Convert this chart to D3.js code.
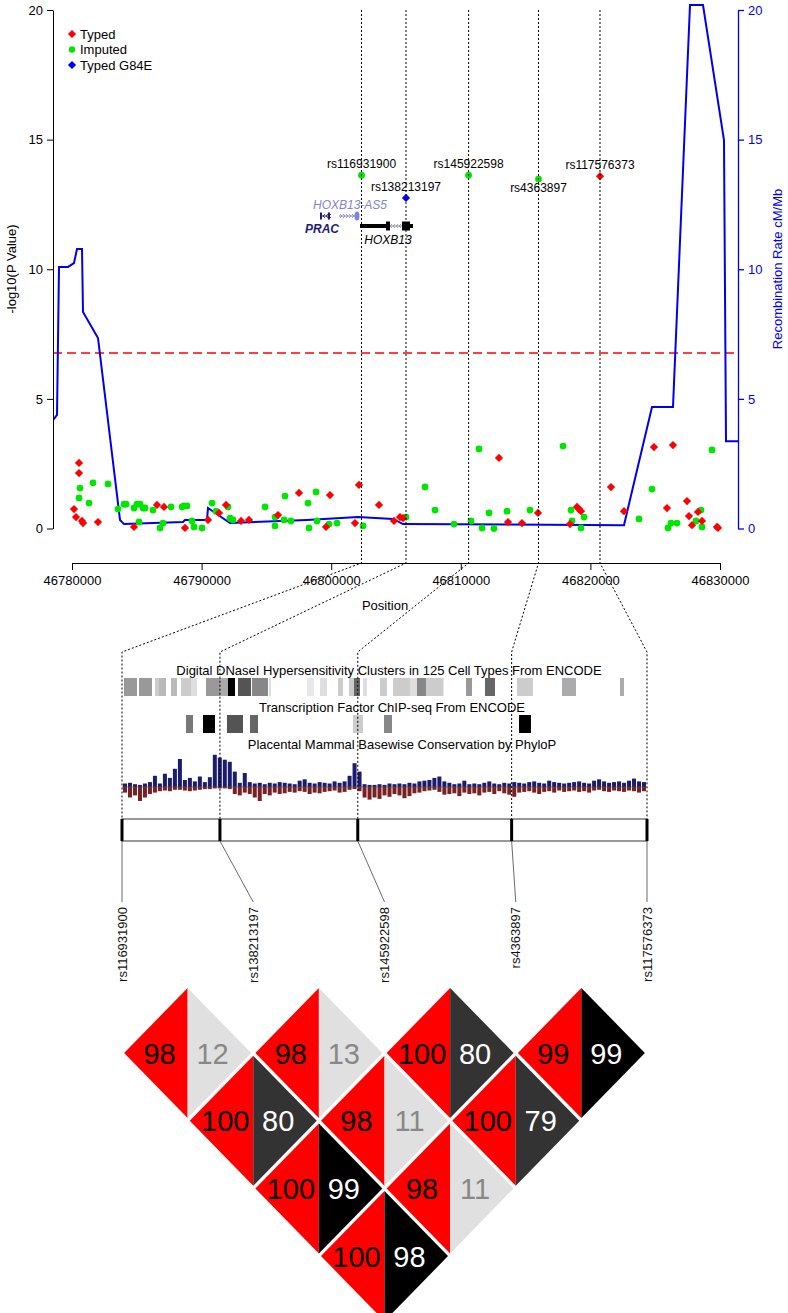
<!DOCTYPE html>
<html>
<head>
<meta charset="utf-8">
<script src="https://cdn.jsdelivr.net/npm/d3@7"></script>
<style>
body{margin:0;background:#fff}
svg text{font-family:"Liberation Sans",Arial,Helvetica,sans-serif}
</style>
</head>
<body>
<svg id="chart" width="788" height="1313"></svg>
<script>
// ---- association plot data
let xTicks=[46780000,46790000,46800000,46810000,46820000,46830000];
let yTicks=[0,5,10,15,20];
let sigLine=6.77;

let recombPos=[46778534,46778843,46778997,46779691,46780154,46780386,46780772,46780849,46782006,46783704,46784012,46788565,46788719,46790417,46790494,46792191,46798133,46802068,46804768,46805540,46822592,46824753,46826373,46827685,46828688,46830308,46830463,46831543];
let recombRate=[4.18,4.38,10.09,10.09,10.24,10.78,10.78,8.35,7.35,0.33,0.17,0.25,0.33,0.33,0.79,0.21,0.33,0.44,0.37,0.17,0.13,4.69,4.69,20.19,20.19,14.98,3.37,3.37];

let typed=[[46780540,2.53],[46780540,2.14],[46780154,0.75],[46780309,0.44],[46780772,0.29],[46780849,0.21],[46782006,0.25],[46784784,0.06],[46786559,0.91],[46787099,0.83],[46788719,0.02],[46790494,0.33],[46791343,0.60],[46791883,0.91],[46793040,0.29],[46793657,0.33],[46795895,0.52],[46797515,1.37],[46799907,1.29],[46799599,0.06],[46801836,0.21],[46802145,1.68],[46803688,0.91],[46804846,0.29],[46805308,0.44],[46805540,0.40],[46812947,2.72],[46813642,0.25],[46814722,0.21],[46815957,0.60],[46818426,0.17],[46818966,0.83],[46819120,0.75],[46819274,0.67],[46821589,1.60],[46822592,0.67],[46824907,3.14],[46826373,3.22],[46825910,0.79],[46827453,1.06],[46827608,0.48],[46828302,0.64],[46828611,0.29],[46827839,0.13],[46829768,0.06],[46829845,0.02],[46820740,13.59]];

let imputed=[[46780617,1.56],[46780540,1.18],[46781312,0.98],[46781620,1.76],[46782778,1.72],[46783549,0.75],[46784012,0.94],[46784167,0.94],[46784784,0.79],[46785170,0.25],[46785015,0.94],[46785247,0.94],[46785478,0.79],[46785633,0.79],[46786250,0.71],[46787639,0.83],[46786790,0.02],[46787022,0.21],[46788488,0.83],[46788642,0.87],[46788873,0.87],[46789259,0.29],[46789414,0.06],[46790031,0.02],[46790802,0.98],[46791111,0.67],[46792037,0.83],[46792191,0.40],[46792423,0.33],[46794892,0.83],[46795663,0.44],[46795663,0.10],[46796358,0.33],[46796435,1.25],[46796898,0.29],[46798210,0.98],[46798287,0.02],[46798827,1.41],[46798904,0.29],[46799830,0.17],[46800447,0.21],[46802454,0.10],[46805771,0.44],[46807237,1.60],[46808009,0.71],[46809475,0.17],[46810787,0.29],[46811404,3.07],[46811636,0.02],[46812176,0.60],[46812562,0.0],[46813565,0.67],[46815339,0.71],[46817886,3.18],[46818503,0.71],[46818580,0.29],[46819506,0.44],[46819274,0.02],[46823749,0.37],[46824753,1.52],[46825987,0.02],[46826218,0.21],[46826682,0.21],[46828534,0.71],[46828148,0.29],[46828611,0.06],[46829382,3.03],[46802338,13.63],[46810602,13.63],[46815995,13.48]];

let g84e=[[46805771,12.75]];

let snpNames=['rs116931900','rs138213197','rs145922598','rs4363897','rs117576373'];
let snpPos=[46802338,46805771,46810602,46815995,46820740];
let snpP=[13.63,12.75,13.63,13.48,13.59];
let snpLabelBelow=[false,false,false,true,false];

// genes: name, start, end, strand
let geneNames=['PRAC','HOXB13-AS5','HOXB13'];
let geneStart=[46799136,46800602,46802222];
let geneEnd=[46799908,46802145,46806311];
let geneStrand=[-1,1,-1];
// exons: gene index, start, end, kind
let exonGene=[0,0,1,2,2,2,2];
let exonStart=[46799136,46799750,46801836,46802222,46804228,46805463,46806080];
let exonEnd=[46799290,46799908,46802145,46804228,46804537,46806080,46806311];
let exonKind=['cds','cds','cds','utr','cds','cds','utr'];

// ---- ENCODE tracks (bp)
let dnaseStart=[46802408,46802934,46803495,46803635,46804055,46804406,46804756,46805282,46805773,46806053,46806404,46806895,46807490,46808822,46809278,46809909,46810294,46810470,46810785,46811381,46811837,46812432,46812678,46812993,46814395,46815061,46816183,46817760,46819793];
let dnaseEnd=[46802864,46803390,46803635,46803880,46804266,46804756,46804967,46805773,46806053,46806299,46806859,46807455,46807560,46809068,46809523,46810084,46810470,46810680,46810925,46811626,46812432,46812678,46813379,46813606,46814606,46815412,46816743,46818251,46819933];
let dnaseScore=[40,40,20,27,27,20,13,40,33,100,67,47,13,9,13,20,20,60,13,20,20,13,47,20,40,60,20,33,33];

let tfStart=[46804581,46805177,46806018,46806824,46810435,46811521,46816253];
let tfEnd=[46804827,46805598,46806579,46807105,46810785,46811802,46816673];
let tfScore=[53,100,67,60,20,47,100];

let phyloPos=[0.5,0.6,0.4,0.3,0.5,0.7,1.6,0.5,1.9,1.3,
2.6,4.0,1.0,1.3,0.8,1.5,0.7,1.4,4.6,4.2,
3.9,3.6,2.2,0.6,2.0,0.7,0.5,0.6,0.4,0.6,
0.5,0.7,0.6,0.5,0.4,0.9,1.1,0.6,0.5,0.7,
0.6,0.5,0.8,0.6,0.8,1.6,3.4,2.2,0.4,0.3,
0.3,0.4,0.3,0.5,0.4,0.5,0.4,0.6,0.5,0.8,
0.9,1.0,1.3,1.5,0.8,0.6,0.4,0.5,0.9,0.4,
0.5,0.4,0.6,0.8,0.5,0.4,0.6,0.5,0.7,0.6,
0.5,0.7,0.8,0.6,0.5,0.9,0.7,0.6,0.5,0.6,
0.7,0.8,0.6,0.5,0.9,1.1,0.8,0.6,0.7,0.8,
0.6,0.9,1.2,0.8,0.7];
let phyloNeg=[0.8,1.5,1.2,2.0,1.5,1.0,0.8,0.6,0.5,0.6,
0.4,0.4,0.5,0.6,0.5,0.4,0.3,0.3,0.2,0.2,
0.2,0.3,1.0,1.2,0.8,1.0,1.5,2.0,1.0,1.2,
0.8,1.0,0.9,0.7,0.8,0.6,0.7,1.0,0.8,0.9,
0.7,0.6,0.5,0.8,0.7,0.4,0.3,0.6,1.5,1.8,
1.5,1.7,1.2,1.4,1.0,1.2,1.6,1.3,0.9,0.8,
0.6,0.5,0.4,0.7,1.1,1.0,0.9,1.3,0.8,1.0,
0.9,1.2,0.8,0.7,1.0,0.6,0.9,1.1,1.4,0.8,
0.7,0.6,0.8,1.0,0.7,0.6,0.8,0.5,0.7,0.6,
0.5,0.7,0.6,0.8,0.5,0.4,0.6,0.7,0.5,0.6,
0.7,0.5,0.6,0.8,0.6];

let encodeTitles=['Digital DNaseI Hypersensitivity Clusters in 125 Cell Types From ENCODE','Transcription Factor ChIP-seq From ENCODE','Placental Mammal Basewise Conservation by PhyloP'];

// ---- LD
let ldA=[0,1,2,3,0,1,2,0,1,0];
let ldB=[1,2,3,4,2,3,4,3,4,4];
let ldDprime=[98,98,100,99,100,98,100,100,98,100];
let ldRsq=[12,13,80,99,80,11,79,99,11,98];

// ================= drawing
let svg=d3.select('#chart');
let x=d3.scaleLinear().domain([46780000,46830000]).range([72,720]);
let y=d3.scaleLinear().domain([0,20]).range([528.5,10]);
let blue='#0000ee';

// significance line
svg.append('line').attr('x1',53).attr('x2',738).attr('y1',y(sigLine)).attr('y2',y(sigLine))
  .attr('stroke','#ff0000').attr('stroke-width',1.5).attr('stroke-dasharray','9,5');

// recombination
svg.append('clipPath').attr('id','clip').append('rect').attr('x',53).attr('y',0).attr('width',685).attr('height',540);
let rline=d3.line().x((d,i)=>x(recombPos[i])).y(d=>y(d));
svg.append('path').attr('d',rline(recombRate)).attr('clip-path','url(#clip)')
  .attr('fill','none').attr('stroke',blue).attr('stroke-width',2);

// axes
let la=svg.append('g').attr('transform','translate(53,0)')
  .call(d3.axisLeft(y).tickValues(yTicks).tickSize(6).tickSizeOuter(0).tickPadding(4));
la.selectAll('text').style('font-size','13px').attr('fill','#000');
la.selectAll('line,path').attr('stroke','#000');

let ra=svg.append('g').attr('transform','translate(738,0)')
  .call(d3.axisRight(y).tickValues(yTicks).tickSize(6).tickSizeOuter(0).tickPadding(4));
ra.selectAll('text').style('font-size','13px').attr('fill',blue);
ra.selectAll('line,path').attr('stroke',blue).attr('stroke-width',1.3);

let ba=svg.append('g').attr('transform','translate(0,563)')
  .call(d3.axisBottom(x).tickValues(xTicks).tickFormat(d3.format('d')).tickSize(7).tickSizeOuter(0).tickPadding(6));
ba.selectAll('text').style('font-size','13px').attr('fill','#000');
ba.selectAll('line,path').attr('stroke','#000');

svg.append('text').attr('x',385).attr('y',610).attr('text-anchor','middle').style('font-size','13px').text('Position');
svg.append('text').attr('transform','translate(16,269) rotate(-90)').attr('text-anchor','middle').style('font-size','13px').text('-log10(P Value)');
svg.append('text').attr('transform','translate(782,269) rotate(-90)').attr('text-anchor','middle').style('font-size','13px').attr('fill',blue).text('Recombination Rate cM/Mb');

// points
let diamond=d3.symbol().type(d3.symbolSquare).size(34);
svg.append('g').selectAll('circle').data(imputed).enter().append('circle')
  .attr('cx',d=>x(d[0])).attr('cy',d=>y(d[1])).attr('r',3.4).attr('fill','#00e600');
svg.append('g').selectAll('path').data(typed).enter().append('path')
  .attr('d',diamond).attr('transform',d=>`translate(${x(d[0])},${y(d[1])}) rotate(45)`).attr('fill','#ff0000');
svg.append('g').selectAll('path').data(g84e).enter().append('path')
  .attr('d',diamond).attr('transform',d=>`translate(${x(d[0])},${y(d[1])}) rotate(45)`).attr('fill','#0000ff');

// legend
let legNames=['Typed','Imputed','Typed G84E'];
let legCols=['#ff0000','#00e600','#0000ff'];
legNames.forEach((n,i)=>{
  let ly=34+i*15.5;
  if(i==1) svg.append('circle').attr('cx',72).attr('cy',ly).attr('r',3.2).attr('fill',legCols[i]);
  else svg.append('path').attr('d',diamond).attr('transform',`translate(72,${ly}) rotate(45)`).attr('fill',legCols[i]);
  svg.append('text').attr('x',80).attr('y',ly+4.5).style('font-size','13px').text(n);
});

// SNP labels
snpNames.forEach((n,i)=>{
  let py=y(snpP[i]);
  svg.append('text').attr('x',x(snpPos[i])).attr('y',snpLabelBelow[i]?py+13:py-7)
    .attr('text-anchor','middle').style('font-size','12px').text(n);
});

// genes
let geneCols=['#1c1c78','#8282d8','#000000'];
let geneY=[216,216,226];
function chevrons(x0,x1,yc,dir,col){
  let p='';
  for(let xx=x0+3;xx<x1-1;xx+=3){ p+=`M${xx-2*dir},${yc-2}L${xx},${yc}L${xx-2*dir},${yc+2}`; }
  svg.append('path').attr('d',p).attr('fill','none').attr('stroke',col).attr('stroke-width',0.8);
}
geneNames.forEach((g,i)=>{
  let gy=geneY[i];
  let introCol=i==2?'#8a8aa8':geneCols[i];
  svg.append('line').attr('x1',x(geneStart[i])).attr('x2',x(geneEnd[i])).attr('y1',gy).attr('y2',gy)
    .attr('stroke',introCol).attr('stroke-width',1);
  chevrons(x(geneStart[i]),x(geneEnd[i]),gy,geneStrand[i],introCol);
});
exonGene.forEach((g,k)=>{
  let h=exonKind[k]=='utr'?4:(g==2?9:7);
  let x0=x(exonStart[k]),x1=x(exonEnd[k]);
  if(g==1){
    svg.append('ellipse').attr('cx',(x0+x1)/2).attr('cy',geneY[g]).attr('rx',(x1-x0)/2+0.5).attr('ry',h/2+1).attr('fill',geneCols[g]);
  } else {
    svg.append('rect').attr('x',x0).attr('width',x1-x0).attr('y',geneY[g]-h/2).attr('height',h).attr('fill',geneCols[g]);
  }
});
svg.append('text').attr('x',322).attr('y',233).attr('text-anchor','middle').style('font-size','12px')
  .style('font-style','italic').style('font-weight','bold').attr('fill',geneCols[0]).text(geneNames[0]);
svg.append('text').attr('x',350).attr('y',209).attr('text-anchor','middle').style('font-size','12px')
  .style('font-style','italic').attr('fill',geneCols[1]).text(geneNames[1]);
svg.append('text').attr('x',388).attr('y',244).attr('text-anchor','middle').style('font-size','12px')
  .style('font-style','italic').attr('fill',geneCols[2]).text(geneNames[2]);

// ================= ENCODE panel
let xe=d3.scaleLinear().domain([snpPos[0],snpPos[4]]).range([122,647]);
let grey=d3.scaleLinear().domain([0,100]).range(['#ffffff','#000000']);

[675,712,749].forEach((ty,i)=>{
  svg.append('text').attr('x',[389,392,402][i]).attr('y',ty).attr('text-anchor','middle')
    .style('font-size','13px').text(encodeTitles[i]);
});
svg.append('g').selectAll('rect').data(dnaseStart).enter().append('rect')
  .attr('x',(d,i)=>xe(d)).attr('width',(d,i)=>xe(dnaseEnd[i])-xe(d))
  .attr('y',678).attr('height',18).attr('fill',(d,i)=>grey(dnaseScore[i]));
svg.append('g').selectAll('rect').data(tfStart).enter().append('rect')
  .attr('x',(d,i)=>xe(d)).attr('width',(d,i)=>xe(tfEnd[i])-xe(d))
  .attr('y',715).attr('height',18).attr('fill',(d,i)=>grey(tfScore[i]));

let pb=d3.scaleBand().domain(d3.range(phyloPos.length)).range([122,647]).padding(0.2);
let py=d3.scaleLinear().domain([-2,5]).range([801,752]);
svg.append('g').selectAll('rect').data(phyloPos).enter().append('rect')
  .attr('x',(d,i)=>pb(i)).attr('width',pb.bandwidth()).attr('y',d=>py(d)).attr('height',d=>py(0)-py(d))
  .attr('fill','#1c1c6e');
svg.append('g').selectAll('rect').data(phyloNeg).enter().append('rect')
  .attr('x',(d,i)=>pb(i)).attr('width',pb.bandwidth()).attr('y',py(0)).attr('height',d=>py(-d)-py(0))
  .attr('fill','#7a2020');
svg.append('line').attr('x1',122).attr('x2',647).attr('y1',py(0)).attr('y2',py(0)).attr('stroke','#555').attr('stroke-width',0.6);

// dotted connectors
snpPos.forEach(p=>{
  svg.append('path').attr('d',`M${x(p)},10V563L${xe(p)},652V819`).attr('fill','none')
    .attr('stroke','#000').attr('stroke-width',1).attr('stroke-dasharray','2,2');
});

// region bar
svg.append('rect').attr('x',122).attr('y',819).attr('width',525).attr('height',22)
  .attr('fill','#fff').attr('stroke','#333').attr('stroke-width',1);
let xl=d3.scalePoint().domain(snpNames).range([122,647]);
snpPos.forEach((p,i)=>{
  svg.append('line').attr('x1',xe(p)).attr('x2',xe(p)).attr('y1',819).attr('y2',841).attr('stroke','#000').attr('stroke-width',3);
  svg.append('line').attr('x1',xe(p)).attr('x2',xl(snpNames[i])).attr('y1',841).attr('y2',902).attr('stroke','#444').attr('stroke-width',0.8);
  svg.append('text').attr('transform',`translate(${xl(snpNames[i])+4.5},907) rotate(-90)`).attr('text-anchor','end')
    .style('font-size','13px').attr('fill','#111').text(snpNames[i]);
});

// ================= LD diamonds
let hw=63.5,hh=65,rowGap=67.7,topY=1053;
let rsqFill=d3.scaleThreshold().domain([50,90]).range(['#e0e0e0','#333333','#000000']);
let rsqText=d3.scaleThreshold().domain([50]).range(['#888888','#ffffff']);
let ld=svg.append('g');
ldA.forEach((a,k)=>{
  let b=ldB[k];
  let cx=(xl(snpNames[a])+xl(snpNames[b]))/2;
  let cy=topY+(b-a-1)*rowGap;
  ld.append('path').attr('d',`M${cx},${cy-hh}L${cx-hw},${cy}L${cx},${cy+hh}Z`).attr('fill','#ff0000');
  ld.append('path').attr('d',`M${cx},${cy-hh}L${cx+hw},${cy}L${cx},${cy+hh}Z`).attr('fill',rsqFill(ldRsq[k]));
  ld.append('text').attr('x',cx-28).attr('y',cy+10.5).attr('text-anchor','middle').style('font-size','29px')
    .attr('fill','#000').text(ldDprime[k]);
  ld.append('text').attr('x',cx+25).attr('y',cy+10.5).attr('text-anchor','middle').style('font-size','29px')
    .attr('fill',rsqText(ldRsq[k])).text(ldRsq[k]);
});
</script>
</body>
</html>
